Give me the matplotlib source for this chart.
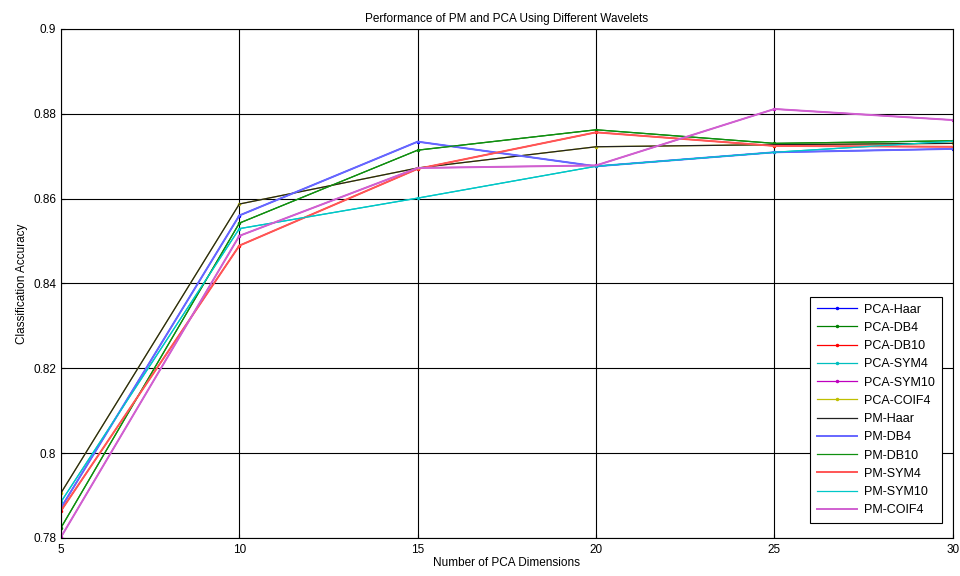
import matplotlib
matplotlib.use("Agg")
import matplotlib.pyplot as plt

plt.rcParams['font.family'] = ['Liberation Sans', 'DejaVu Sans']

dims = [5, 10, 15, 20, 25, 30]

# visible curves (PCA and PM pairs overlap)
blue_vals    = [0.7871, 0.8560, 0.8734, 0.8676, 0.8709, 0.8717]
green_vals   = [0.7824, 0.8542, 0.8714, 0.8762, 0.8730, 0.8736]
red_vals     = [0.7864, 0.8489, 0.8670, 0.8756, 0.8724, 0.8722]
cyan_vals    = [0.7885, 0.8529, 0.8601, 0.8676, 0.8709, 0.8735]
magenta_vals = [0.7802, 0.8512, 0.8672, 0.8678, 0.8811, 0.8785]
black_vals   = [0.7906, 0.8587, 0.8672, 0.8722, 0.8727, 0.8730]

pca_names = ["PCA-Haar", "PCA-DB4", "PCA-DB10", "PCA-SYM4", "PCA-SYM10", "PCA-COIF4"]
pca_data = [blue_vals, green_vals, red_vals, cyan_vals, magenta_vals, black_vals]
pca_colors = ["#0000ff", "#008000", "#ff0000", "#00bfbf", "#bf00bf", "#bfbf00"]

pm_names = ["PM-Haar", "PM-DB4", "PM-DB10", "PM-SYM4", "PM-SYM10", "PM-COIF4"]
pm_data = [black_vals, blue_vals, green_vals, red_vals, cyan_vals, magenta_vals]
pm_colors = ["#222222", "#6666ff", "#109010", "#ff5555", "#00c8c8", "#d060d0"]
pm_widths = [0.9, 1.4, 0.9, 1.4, 0.9, 1.4]

fig = plt.figure(figsize=(9.6, 5.76), dpi=100)
ax = fig.add_axes([0.0635, 0.066, 0.929, 0.884])

for name, vals, c in zip(pca_names, pca_data, pca_colors):
    ax.plot(dims, vals, color=c, lw=0.9, marker='.', markersize=3, label=name)
for name, vals, c, w in zip(pm_names, pm_data, pm_colors, pm_widths):
    ax.plot(dims, vals, color=c, lw=w, label=name)

ax.set_xlim(5, 30)
ax.set_ylim(0.78, 0.9)
ax.set_xticks([5, 10, 15, 20, 25, 30])
ax.set_yticks([0.78, 0.8, 0.82, 0.84, 0.86, 0.88, 0.9])
ax.set_yticklabels(["0.78", "0.8", "0.82", "0.84", "0.86", "0.88", "0.9"])
ax.grid(True, color='black', lw=0.8, ls='-')
ax.set_axisbelow(True)
ax.tick_params(labelsize=8.5, direction='in', length=3)
ax.tick_params(axis='x', pad=4)
for s in ax.spines.values():
    s.set_linewidth(0.8)

ax.set_title("Performance of PM and PCA Using Different Wavelets", fontsize=8.5, pad=5)
ax.set_xlabel("Number of PCA Dimensions", fontsize=8.5, labelpad=1)
ax.set_ylabel("Classification Accuracy", fontsize=8.5, labelpad=4)

leg = ax.legend(loc='lower right', bbox_to_anchor=(0.988, 0.029), borderaxespad=0,
                fontsize=9, frameon=True, fancybox=False, edgecolor='black', framealpha=1,
                handlelength=3.2, labelspacing=0.5, borderpad=0.55, handletextpad=0.6)
leg.get_frame().set_linewidth(0.8)

fig.savefig("out.png", dpi=100)
